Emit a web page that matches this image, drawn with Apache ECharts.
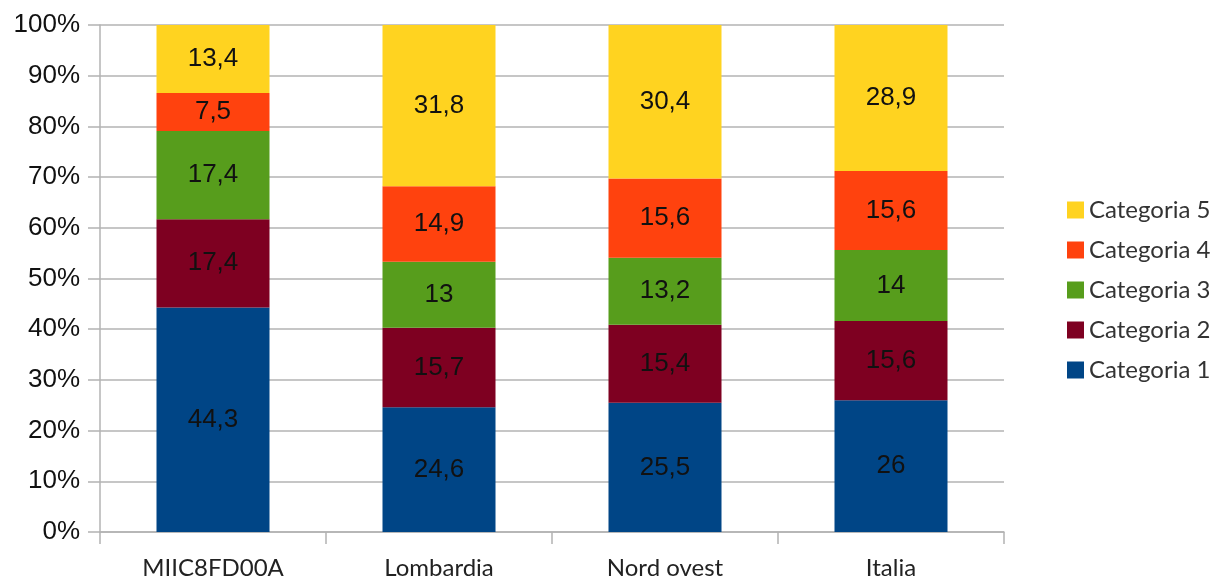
<!DOCTYPE html>
<html><head><meta charset="utf-8">
<script src="https://cdn.jsdelivr.net/npm/echarts@6/dist/echarts.min.js"></script>
<style>html,body{margin:0;padding:0;background:#fff}#c{width:1228px;height:580px}</style>
</head><body><div id="c"></div>
<script>
const categories = ['MIIC8FD00A', 'Lombardia', 'Nord ovest', 'Italia'];
const seriesNames = ['Categoria 1', 'Categoria 2', 'Categoria 3', 'Categoria 4', 'Categoria 5'];
const cat1 = [44.3, 24.6, 25.5, 26];
const cat2 = [17.4, 15.7, 15.4, 15.6];
const cat3 = [17.4, 13, 13.2, 14];
const cat4 = [7.5, 14.9, 15.6, 15.6];
const cat5 = [13.4, 31.8, 30.4, 28.9];
const colors = ['#004586', '#7e0021', '#579d1c', '#ff420e', '#ffd320'];
const values = [cat1, cat2, cat3, cat4, cat5];

const chart = echarts.init(document.getElementById('c'));
chart.setOption({
  animation: false,
  grid: {left: 100, right: 224, top: 25, bottom: 48},
  legend: {
    orient: 'vertical', left: 1062, top: 193, itemGap: 16, itemWidth: 17, itemHeight: 17, icon: 'rect',
    data: seriesNames.slice().reverse(),
    textStyle: {fontFamily: 'Lato', fontSize: 24, color: '#333', lineHeight: 24}
  },
  xAxis: {
    type: 'category', data: categories,
    axisLine: {lineStyle: {color: '#b3b3b3', width: 1.5}},
    axisTick: {show: true, length: 12, lineStyle: {color: '#b3b3b3', width: 1.5}},
    axisLabel: {fontFamily: 'Lato', fontSize: 24, color: '#222', margin: 24}
  },
  yAxis: {
    type: 'value', min: 0, max: 100, interval: 10,
    axisLine: {show: true, lineStyle: {color: '#b3b3b3', width: 1.5}},
    axisTick: {show: true, length: 12, lineStyle: {color: '#b3b3b3', width: 1.5}},
    splitLine: {lineStyle: {color: '#b3b3b3', width: 1.5}},
    axisLabel: {formatter: '{value}%', fontFamily: 'Liberation Sans', fontSize: 26, color: '#111', margin: 20}
  },
  series: seriesNames.map((n, i) => ({
    name: n, type: 'bar', stack: 'total', barWidth: '50%',
    itemStyle: {color: colors[i]},
    data: values[i],
    label: {
      show: true, position: 'inside',
      formatter: p => String(p.value).replace('.', ','),
      fontFamily: 'Liberation Sans', fontSize: 26, color: '#111'
    }
  }))
});
</script></body></html>
